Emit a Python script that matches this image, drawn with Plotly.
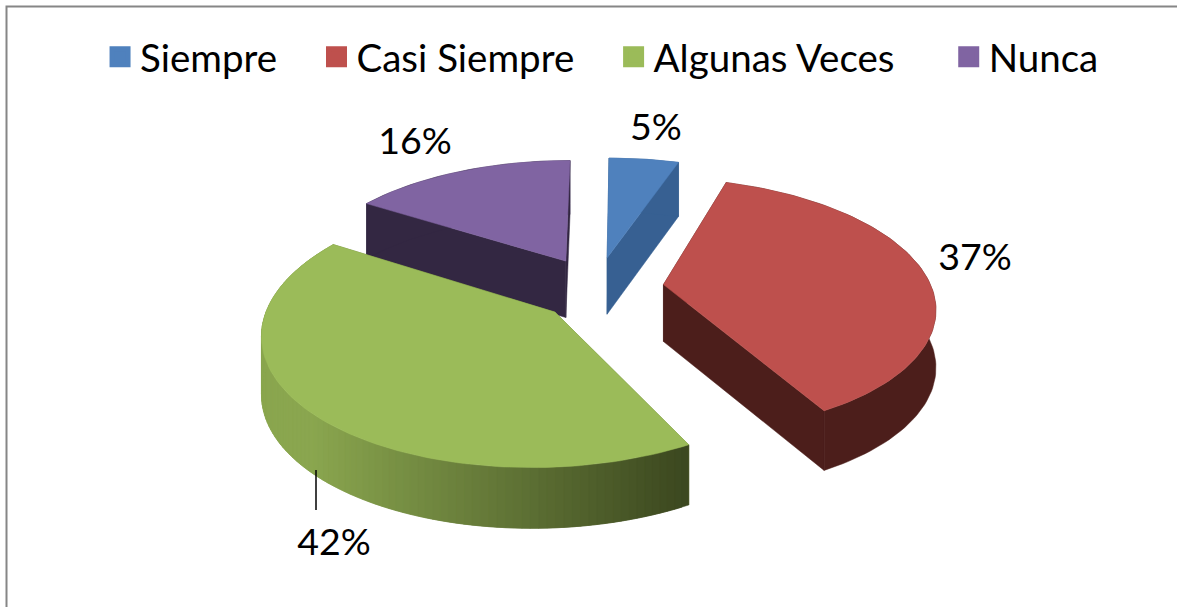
import numpy as np
import plotly.graph_objects as go

categories = ["Siempre", "Casi Siempre", "Algunas Veces", "Nunca"]
values = [5, 37, 42, 16]
top_colors = ["#4F81BD", "#BE504D", "#9BBB59", "#8064A2"]
wall_colors = ["#376092", "#4C1E1B", "#6B8238", "#332742"]
rim_left = ["#376092", "#4C1E1B", "#8AA64F", "#332742"]
rim_right = ["#376092", "#4C1E1B", "#3C4820", "#332742"]
label_xy = [(656, 131), (975, 261), (334, 546), (415, 145)]
legend_pad = ["\u00a0\u00a0\u00a0\u2009", "\u00a0\u00a0\u00a0\u2009", "\u00a0\u00a0\u00a0\u00a0\u00a0", ""]

# small per-slice corrections to the exploded position: offset of the whole slice, and of its apex
slice_nudge = [(0.015, 0), (0, 0), (-0.015, 0), (0, 0)]
apex_nudge = [(-0.015, 0), (0, 0), (0.045, 0.02), (0, 0)]

W, H = 1177, 607
CX, CY, A, B, K, PULL, DEPTH = 597.0, 287.5, 268.0, 124.7, 0.1616, 0.25, 57.0


def project(X, Y, z=0.0):
    s = 1.0 / (1.0 - K * np.asarray(Y))
    return CX + A * np.asarray(X) * s, CY + B * np.asarray(Y) * s + DEPTH * z * s ** 0.3


def hex2rgb(c):
    return np.array([int(c[i:i + 2], 16) for i in (1, 3, 5)], float)


def poly(fig, xs, ys, color):
    fig.add_trace(go.Scatter(x=list(xs) + [xs[0]], y=list(ys) + [ys[0]], mode="lines",
                             fill="toself", fillcolor=color,
                             line=dict(color=color, width=0.5),
                             hoverinfo="skip", showlegend=False))


fig = go.Figure()
total = sum(values)
edges = np.concatenate([[0], np.cumsum(values)]) / total * 2 * np.pi
draw_order = [3, 0, 2, 1]

for i in draw_order:
    t0, t1 = edges[i], edges[i + 1]
    mid = (t0 + t1) / 2
    ox = PULL * np.sin(mid) + slice_nudge[i][0]
    oy = -PULL * np.cos(mid) + slice_nudge[i][1]
    apx, apy = ox + apex_nudge[i][0], oy + apex_nudge[i][1]
    th = np.linspace(t0, t1, max(6, int((t1 - t0) * 40)))
    rx, ry = ox + np.sin(th), oy - np.cos(th)

    # radial walls
    for t in (t0, t1):
        ex, ey = ox + np.sin(t), oy - np.cos(t)
        a0, a1 = project(apx, apy, 0), project(apx, apy, 1)
        e0, e1 = project(ex, ey, 0), project(ex, ey, 1)
        poly(fig, [a0[0], e0[0], e1[0], a1[0]], [a0[1], e0[1], e1[1], a1[1]], wall_colors[i])

    # rim wall: one face when flat, overlapping strips when shaded left to right
    top_x, top_y = project(rx, ry, 0)
    bot_x, bot_y = project(rx, ry, 1)
    if rim_left[i] == rim_right[i]:
        poly(fig, list(top_x) + list(bot_x[::-1]), list(top_y) + list(bot_y[::-1]), rim_left[i])
    else:
        cl, cr = hex2rgb(rim_left[i]), hex2rgb(rim_right[i])
        x_min, x_max = 316.0, 690.0
        n = len(th)
        for j in range(n - 1):
            k = min(j + 2, n - 1)
            f = np.clip((top_x[j] - x_min) / (x_max - x_min), 0, 1)
            col = "rgb(%d,%d,%d)" % tuple(cl + (cr - cl) * f)
            poly(fig, list(top_x[j:k + 1]) + list(bot_x[j:k + 1][::-1]),
                 list(top_y[j:k + 1]) + list(bot_y[j:k + 1][::-1]), col)

    # top face
    ax, ay = project(apx, apy, 0)
    poly(fig, [ax] + list(top_x), [ay] + list(top_y), top_colors[i])

# legend entries
for name, col, pad in zip(categories, top_colors, legend_pad):
    fig.add_trace(go.Scatter(x=[None], y=[None], mode="markers", name=name + pad,
                             marker=dict(symbol="square", size=24, color=col,
                                         line=dict(color=col, width=5))))

# data labels
fig.add_trace(go.Scatter(x=[p[0] for p in label_xy], y=[p[1] for p in label_xy], mode="text",
                         text=[f"{v}%" for v in values], showlegend=False, hoverinfo="skip",
                         textposition="middle center",
                         textfont=dict(family="Lato", size=37.5, color="black")))

fig.update_layout(
    width=W, height=H, margin=dict(l=0, r=0, t=0, b=0),
    paper_bgcolor="white", plot_bgcolor="white",
    xaxis=dict(range=[0, W], visible=False, fixedrange=True),
    yaxis=dict(range=[H, 0], visible=False, fixedrange=True),
    legend=dict(orientation="h", x=0.085, xanchor="left", y=0.9585, yanchor="top",
                font=dict(family="Lato", size=38.5, color="black"),
                bgcolor="rgba(0,0,0,0)", itemclick=False, itemdoubleclick=False),
    shapes=[
        dict(type="line", xref="x", yref="y", x0=316, x1=316, y0=470, y1=510,
             line=dict(color="black", width=1.5)),
        dict(type="rect", xref="x", yref="y", x0=6.5, x1=W + 20, y0=6.5, y1=H + 20,
             line=dict(color="#868686", width=2), layer="above"),
    ],
)
fig.write_html("out.html", post_script="document.body.style.margin='0';",
               config={"displayModeBar": False})
